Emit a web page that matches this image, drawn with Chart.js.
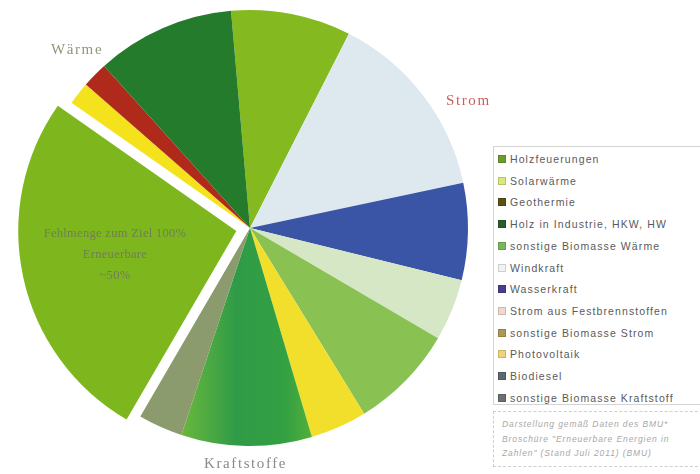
<!DOCTYPE html>
<html>
<head>
<meta charset="utf-8">
<script src="https://cdn.jsdelivr.net/npm/chart.js@4/dist/chart.umd.min.js"></script>
<style>
  html, body { margin: 0; padding: 0; background: #fff; }
  #stage { position: relative; width: 700px; height: 474px; overflow: hidden; font-family: "Liberation Sans", Arial, sans-serif; }
  #wrap { position: absolute; left: 0; top: 0; width: 490px; height: 474px; }
  .lbl { position: absolute; font-family: "Liberation Serif", "DejaVu Serif", serif; white-space: nowrap; font-size: 15px; letter-spacing: 1.6px; }
  #legend { position: absolute; left: 493px; top: 146px; width: 215px; height: 259px; border: 1px solid #d4d4d4; box-sizing: border-box; }
  .li { position: absolute; left: 4px; height: 12px; font-size: 10.5px; letter-spacing: 1.1px; color: #5a5a5a; line-height: 12px; white-space: nowrap; }
  .sw { display: inline-block; width: 8px; height: 8px; margin-right: 4px; vertical-align: 0px; border: 1px solid rgba(0,0,0,0.15); box-sizing: border-box; }
  #note { position: absolute; left: 493px; top: 411px; width: 215px; height: 56px; border: 1px dashed #cfcfcf; box-sizing: border-box; color: #a8a8a8; font-size: 8.5px; letter-spacing: 0.9px; line-height: 14.5px; padding: 5px 0 0 8px; white-space: nowrap; font-style: italic; }
</style>
</head>
<body>
<div id="stage">
  <div id="wrap"><canvas id="c"></canvas></div>
  <div class="lbl" style="left:51px; top:41px; color:#8c9878;">Wärme</div>
  <div class="lbl" style="left:446px; top:92px; color:#c86060;">Strom</div>
  <div class="lbl" style="left:204px; top:455px; color:#8a8a8a;">Kraftstoffe</div>
  <div class="lbl" id="inner" style="left:40px; top:223px; width:150px; text-align:center; font-size:12.5px; letter-spacing:0.3px; line-height:21px; color:#6f7f52;"></div>
  <div id="legend"></div>
  <div id="note"></div>
</div>
<script>
// Pie slices, clockwise from the top
const sliceLabels = [
  "Holzfeuerungen", "Windkraft", "Wasserkraft", "Strom aus Festbrennstoffen",
  "sonstige Biomasse Strom", "Photovoltaik", "Biodiesel", "sonstige Biomasse Kraftstoff",
  "Fehlmenge", "Solarwärme", "Geothermie", "Holz in Industrie, HKW, HW"
];
const sliceValues = [8.9, 14.2, 7.2, 4.6, 7.8, 4.2, 9.7, 3.3, 26.4, 1.7, 1.9, 10.3];
const sliceColors = [
  "#84ba1f", "#dde8ef", "#3a55a6", "#d6e7c6",
  "#89c153", "#f2df2c", "GRADIENT", "#8b9b6d",
  "#7db71d", "#f4e21c", "#b02a1c", "#247b2b"
];
const explodedSlice = "Fehlmenge";

// Legend entries
const legendLabels = [
  "Holzfeuerungen", "Solarwärme", "Geothermie", "Holz in Industrie, HKW, HW",
  "sonstige Biomasse Wärme", "Windkraft", "Wasserkraft", "Strom aus Festbrennstoffen",
  "sonstige Biomasse Strom", "Photovoltaik", "Biodiesel", "sonstige Biomasse Kraftstoff"
];
const legendColors = [
  "#6f9a2c", "#d9e77c", "#5a5214", "#2c5c2e",
  "#78b85a", "#f2f2f2", "#4c3c8e", "#f0d8d0",
  "#ae9752", "#eed378", "#5f6870", "#6e6e6e"
];
const innerText = ["Fehlmenge zum Ziel 100%", "Erneuerbare", "~50%"];
const noteLines = [
  "Darstellung gemäß Daten des BMU*",
  "Broschüre \"Erneuerbare Energien in",
  "Zahlen\" (Stand Juli 2011) (BMU)"
];

// legend
const lg = document.getElementById('legend');
legendLabels.forEach((t, i) => {
  const d = document.createElement('div');
  d.className = 'li';
  d.style.top = (6 + i * 21.7) + 'px';
  const s = document.createElement('span');
  s.className = 'sw';
  s.style.background = legendColors[i];
  d.appendChild(s);
  d.appendChild(document.createTextNode(t));
  lg.appendChild(d);
});
document.getElementById('note').innerHTML = noteLines.join('<br>');
document.getElementById('inner').innerHTML = innerText.join('<br>');

function bioGradient(ctx) {
  const c = ctx.chart.ctx;
  const g = c.createLinearGradient(180, 0, 320, 0);
  g.addColorStop(0, "#6cb83c");
  g.addColorStop(0.4, "#2f9b48");
  g.addColorStop(0.75, "#33a042");
  g.addColorStop(1, "#5cb538");
  return g;
}

new Chart(document.getElementById('c'), {
  type: 'pie',
  data: {
    labels: sliceLabels,
    datasets: [{
      data: sliceValues,
      backgroundColor: (ctx) => {
        const col = sliceColors[ctx.dataIndex];
        return col === "GRADIENT" ? bioGradient(ctx) : col;
      },
      borderWidth: 0,
      offset: sliceLabels.map(l => l === explodedSlice ? 56 : 0),
      hoverOffset: 0,
      radius: 218,
      clip: false
    }]
  },
  options: {
    responsive: true,
    maintainAspectRatio: false,
    animation: false,
    rotation: -5,
    layout: { padding: { left: 25, top: 3, right: 15, bottom: 21 } },
    plugins: { legend: { display: false }, tooltip: { enabled: false } }
  }
});
</script>
</body>
</html>
